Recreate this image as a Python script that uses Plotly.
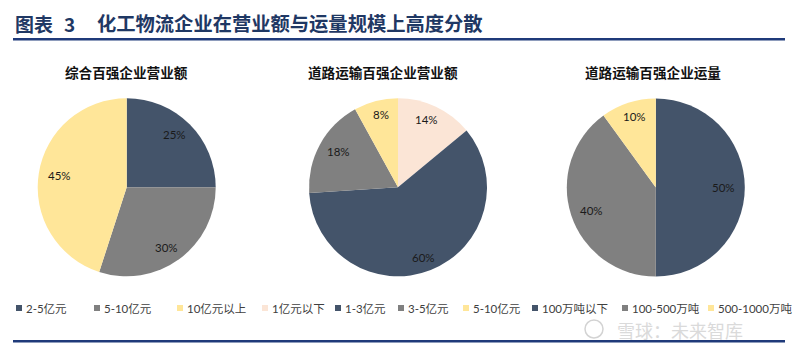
import math
import plotly.graph_objects as go

W, H = 800, 349

# ---- data ----
titles = ["综合百强企业营业额", "道路运输百强企业营业额", "道路运输百强企业运量"]
labels1 = ["2-5亿元", "5-10亿元", "10亿元以上"]
values1 = [25, 30, 45]
labels2 = ["1亿元以下", "1-3亿元", "3-5亿元", "5-10亿元"]
values2 = [14, 60, 18, 8]
labels3 = ["100万吨以下", "100-500万吨", "500-1000万吨"]
values3 = [50, 40, 10]

NAVY = "#44546A"
GRAY = "#808080"
YELLOW = "#FFE699"
PEACH = "#FBE5D6"
colors1 = [NAVY, GRAY, YELLOW]
colors2 = [PEACH, NAVY, GRAY, YELLOW]
colors3 = [NAVY, GRAY, YELLOW]

main_title_prefix = "图表"
main_title_num = "3"
main_title = "化工物流企业在营业额与运量规模上高度分散"
watermark = "雪球：未来智库"

# ---- layout helpers ----
def dom(cx, cy, r):
    return dict(x=[(cx - r - 10) / W, (cx + r + 10) / W],
                y=[(H - cy - r) / H, (H - cy + r) / H])

R = 89
centers = [(126.7, 187.3), (398.0, 187.3), (655.8, 187.5)]
LBL_RX, LBL_RY = 68, 75   # label placement radii (px)
LABEL_FONT = "Lato, 'Noto Sans CJK SC', sans-serif"
CJK_FONT = "'Noto Sans CJK SC', sans-serif"

fig = go.Figure()
ann = []
for (labs, vals, cols), (cx, cy) in zip(
        [(labels1, values1, colors1), (labels2, values2, colors2), (labels3, values3, colors3)],
        centers):
    fig.add_trace(go.Pie(
        labels=labs, values=vals, sort=False, direction="clockwise", rotation=0,
        marker=dict(colors=cols, line=dict(width=0)),
        textinfo="none",
        domain=dom(cx, cy, R), showlegend=False, hoverinfo="label+percent",
    ))
    # percentage labels placed along each slice's bisector
    total = float(sum(vals))
    cum = 0.0
    for v in vals:
        mid = (cum + v / 2.0) / total * 2 * math.pi
        cum += v
        px = cx + LBL_RX * math.sin(mid)
        py = cy - LBL_RY * math.cos(mid)
        ann.append(dict(text="%g%%" % v, x=px / W, y=1 - py / H, xref="paper", yref="paper",
                        xanchor="center", yanchor="middle", showarrow=False,
                        font=dict(family=LABEL_FONT, size=11.5, color="#1a1a1a")))

# main title
TITLE_COLOR = "#1F3864"
ty = 1 - 23.5 / H
ann.append(dict(text="<b>%s</b>" % main_title_prefix, x=13 / W, y=ty, xref="paper", yref="paper",
                xanchor="left", yanchor="middle", showarrow=False,
                font=dict(family=CJK_FONT, size=19, color=TITLE_COLOR)))
ann.append(dict(text="<b>%s</b>" % main_title_num, x=62 / W, y=ty, xref="paper", yref="paper",
                xanchor="left", yanchor="middle", showarrow=False,
                font=dict(family=CJK_FONT, size=19, color=TITLE_COLOR)))
ann.append(dict(text="<b>%s</b>" % main_title, x=95 / W, y=ty, xref="paper", yref="paper",
                xanchor="left", yanchor="middle", showarrow=False,
                font=dict(family=CJK_FONT, size=19.3, color=TITLE_COLOR)))

# subplot titles
sub_x = [126, 383, 653]
for t, sx in zip(titles, sub_x):
    ann.append(dict(text="<b>%s</b>" % t, x=sx / W, y=1 - 71.5 / H, xref="paper", yref="paper",
                    xanchor="center", yanchor="middle", showarrow=False,
                    font=dict(family=CJK_FONT, size=13.6, color="#111111")))

# custom legend
leg_labels = labels1 + labels2 + labels3
leg_colors = colors1 + colors2 + colors3
leg_x = [16, 94, 177, 262, 335, 398, 463, 532, 622, 708]
LY = 308
shapes = []
for lab, col, lx in zip(leg_labels, leg_colors, leg_x):
    shapes.append(dict(type="rect", xref="paper", yref="paper",
                       x0=lx / W, x1=(lx + 6) / W, y0=1 - (LY + 3) / H, y1=1 - (LY - 3) / H,
                       fillcolor=col, line=dict(width=0)))
    ann.append(dict(text=lab, x=(lx + 8) / W, y=1 - LY / H, xref="paper", yref="paper",
                    xanchor="left", yanchor="middle", showarrow=False,
                    font=dict(family=LABEL_FONT, size=11.5, color="#404040")))

# rules
LINE_COLOR = "#1F3A7A"
for yy in [39.2, 341.2]:
    shapes.append(dict(type="line", xref="paper", yref="paper",
                       x0=13 / W, x1=785 / W, y0=1 - yy / H, y1=1 - yy / H,
                       line=dict(color=LINE_COLOR, width=2.5)))

# watermark
shapes.append(dict(type="circle", xref="paper", yref="paper",
                   x0=585 / W, x1=603 / W, y0=1 - 338 / H, y1=1 - 320 / H,
                   line=dict(color="#d3d3d3", width=1.5)))
ann.append(dict(text=watermark, x=615 / W, y=1 - 330 / H, xref="paper", yref="paper",
                xanchor="left", yanchor="middle", showarrow=False,
                font=dict(family=CJK_FONT, size=18, color="#dadada")))

fig.update_layout(
    width=W, height=H, margin=dict(l=0, r=0, t=0, b=0),
    paper_bgcolor="white", plot_bgcolor="white",
    annotations=ann, shapes=shapes, showlegend=False,
)

fig.write_html("out.html")
